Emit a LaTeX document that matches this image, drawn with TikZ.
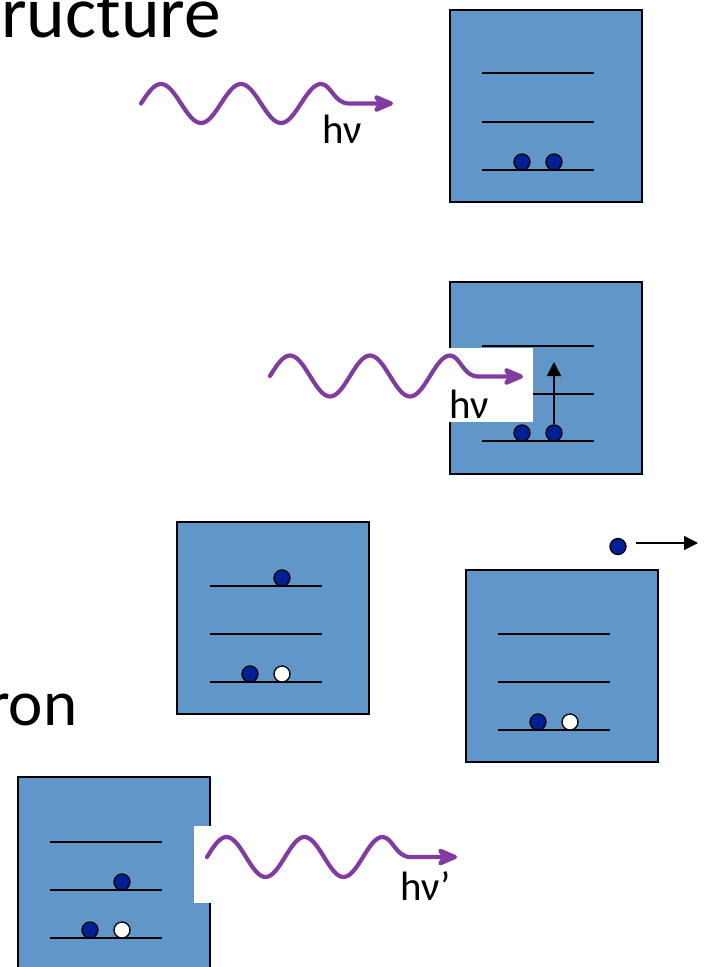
\documentclass[tikz,border=0pt]{standalone}
\usepackage{fontspec}
\setmainfont{Carlito}
\usetikzlibrary{arrows.meta}
\definecolor{boxblue}{RGB}{97,150,200}
\definecolor{eblue}{RGB}{0,32,150}
\definecolor{photonpurple}{RGB}{130,60,160}
\begin{document}
\begin{tikzpicture}[x=1pt,y=-1pt,
  atombox/.style={draw=black, line width=2pt, fill=boxblue, minimum size=192pt, inner sep=0pt},
  level/.style={line width=1.8pt},
  electron/.style={circle, draw=black, line width=1.3pt, fill=eblue, minimum size=16pt, inner sep=0pt},
  hole/.style={electron, fill=white},
  photon/.style={draw=photonpurple, line width=4.2pt, line cap=round, line join=round, -{Stealth[length=26pt,width=22pt,inset=8pt,round]}},
  hvtext/.style={font=\fontsize{41}{41}\selectfont, anchor=base west, inner sep=0pt},
  bigtext/.style={font=\fontsize{73.5}{73.5}\selectfont, anchor=base west, inner sep=0pt},
  midtext/.style={font=\fontsize{65}{65}\selectfont, anchor=base west, inner sep=0pt},
  blackarrow/.style={line width=1.5pt, -{Triangle[length=14pt,width=14pt]}}
  ]
\useasboundingbox (0,0) rectangle (706,967);
\clip (0,0) rectangle (706,967);

% ---- Box 1 ----
\begin{scope}[shift={(450,10)}]
  \node[atombox] (b1) at (96,96) {};
  \draw[level] (32,63) -- (144,63);
  \draw[level] (32,112) -- (144,112);
  \draw[level] (32,160) -- (144,160);
  \node[electron] (e11) at (72,152) {};
  \node[electron] (e12) at (104,152) {};
\end{scope}

% ---- Box 2 ----
\begin{scope}[shift={(450,282)}]
  \node[atombox] (b2) at (96,96) {};
  \draw[level] (32,64) -- (144,64);
  \draw[level] (32,112) -- (144,112);
  \draw[level] (32,159) -- (144,159);
  \node[electron] (e21) at (72,151) {};
  \node[electron] (e22) at (104,151) {};
  \coordinate (exc) at (104,80);
  \draw[blackarrow] (e22.north) -- (exc);
\end{scope}

% ---- Box 3 ----
\begin{scope}[shift={(177,522)}]
  \node[atombox] (b3) at (96,96) {};
  \draw[level] (33,64) -- (145,64);
  \draw[level] (33,112) -- (145,112);
  \draw[level] (33,160) -- (145,160);
  \node[electron] (e3u) at (105,56) {};
  \node[electron] (e31) at (73,152) {};
  \node[hole] (h31) at (105,152) {};
\end{scope}

% ---- Box 4 ----
\begin{scope}[shift={(466,570)}]
  \node[atombox] (b4) at (96,96) {};
  \draw[level] (32,64) -- (144,64);
  \draw[level] (32,112) -- (144,112);
  \draw[level] (32,160) -- (144,160);
  \node[electron] (e41) at (72,152) {};
  \node[hole] (h41) at (104,152) {};
\end{scope}

% free electron
\node[electron] (ef) at (618,546.5) {};
\coordinate (efs) at (636,543);
\coordinate (efe) at (698,543);
\draw[blackarrow] (efs) -- (efe);

% ---- Box 5 ----
\begin{scope}[shift={(18,777)}]
  \node[atombox] (b5) at (96,96) {};
  \draw[level] (32,65) -- (144,65);
  \draw[level] (32,113) -- (144,113);
  \draw[level] (32,161) -- (144,161);
  \node[electron] (e5m) at (104,105) {};
  \node[electron] (e51) at (72,153) {};
  \node[hole] (h51) at (104,153) {};
\end{scope}

% white label backgrounds
\fill[white] (440,347.5) rectangle (533,422);
\fill[white] (194,826) rectangle (480,903);

% ---- Photons ----
\coordinate (w1tip) at (393,103.5);
\draw[photon] plot[domain=0:180, samples=73, smooth] ({141+\x},{103.5-19.5*sin(\x*4.5)})
   .. controls (331,84) and (334,103.5) .. (349,103.5) -- (w1tip);

\coordinate (w2tip) at (523,376.5);
\draw[photon] plot[domain=0:180, samples=73, smooth] ({270+\x},{376-20.5*sin(\x*4.5)})
   .. controls (460,355.5) and (463,376.5) .. (478,376.5) -- (w2tip);

\coordinate (w3tip) at (457,857);
\draw[photon] plot[domain=0:175.5, samples=73, smooth] ({207+\x},{857-20*sin(\x*4.61538)})
   .. controls (392.5,837) and (395.5,857) .. (410.5,857) -- (w3tip);

% ---- Texts ----
\node[bigtext] (t1) at (1,37) {ructure};
\node[midtext] (t2) at (-13,725) {ron};
\node[hvtext] (hv1) at (322,143) {hν};
\node[hvtext] (hv2) at (449,418) {hν};
\node[hvtext] (hv3) at (400,900) {hν’};
\end{tikzpicture}
\end{document}
